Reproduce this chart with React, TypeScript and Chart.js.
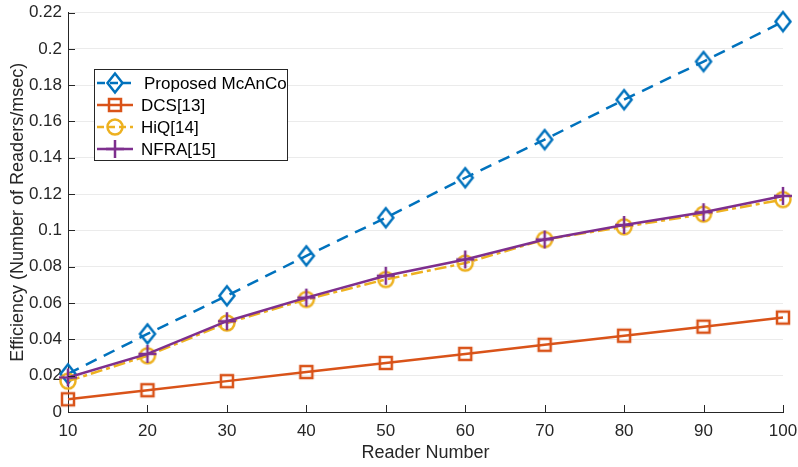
import React, { useEffect, useRef } from 'react';
import { Chart, registerables } from 'chart.js';

Chart.register(...registerables);

const readerNumbers = [10, 20, 30, 40, 50, 60, 70, 80, 90, 100];
const proposedMcAnCo = [0.021, 0.043, 0.064, 0.086, 0.107, 0.129, 0.150, 0.172, 0.193, 0.215];
const dcs13 = [0.007, 0.012, 0.017, 0.022, 0.027, 0.032, 0.037, 0.042, 0.047, 0.052];
const hiq14 = [0.017, 0.031, 0.049, 0.062, 0.073, 0.082, 0.095, 0.102, 0.109, 0.117];
const nfra15 = [0.019, 0.032, 0.050, 0.063, 0.075, 0.084, 0.095, 0.103, 0.110, 0.119];

const seriesNames = ['Proposed McAnCo', 'DCS[13]', 'HiQ[14]', 'NFRA[15]'];
const xTicks = [10, 20, 30, 40, 50, 60, 70, 80, 90, 100];
const yTicks = [0, 0.02, 0.04, 0.06, 0.08, 0.1, 0.12, 0.14, 0.16, 0.18, 0.2, 0.22];
const xTitle = 'Reader Number';
const yTitle = 'Efficiency (Number of Readers/msec)';

const FONT = "'Liberation Sans', Arial, Helvetica, sans-serif";
const AXIS = '#262626';

type Style = { color: string; dash: number[]; legendDash: number[]; marker: string };
const styles: Style[] = [
  { color: '#0072BD', dash: [12, 8], legendDash: [8, 5], marker: 'diamond' },
  { color: '#D95319', dash: [], legendDash: [], marker: 'square' },
  { color: '#EDB120', dash: [12, 4, 4, 4], legendDash: [7, 4], marker: 'circle' },
  { color: '#7E2F8E', dash: [], legendDash: [], marker: 'cross' },
];

function drawMarker(ctx: CanvasRenderingContext2D, s: Style, x: number, y: number) {
  ctx.save();
  ctx.setLineDash([]);
  ctx.strokeStyle = s.color;
  ctx.lineWidth = 2.5;
  ctx.beginPath();
  if (s.marker === 'diamond') {
    ctx.moveTo(x, y - 9.5);
    ctx.lineTo(x + 7.5, y);
    ctx.lineTo(x, y + 9.5);
    ctx.lineTo(x - 7.5, y);
    ctx.closePath();
  } else if (s.marker === 'square') {
    const h = 6;
    ctx.rect(x - h, y - h, 2 * h, 2 * h);
  } else if (s.marker === 'circle') {
    ctx.arc(x, y, 7.5, 0, Math.PI * 2);
  } else {
    const r = 9;
    ctx.moveTo(x - r, y);
    ctx.lineTo(x + r, y);
    ctx.moveTo(x, y - r);
    ctx.lineTo(x, y + r);
  }
  ctx.stroke();
  ctx.restore();
}

function makeMarkerImage(s: Style): HTMLCanvasElement {
  const c = document.createElement('canvas');
  c.width = 24;
  c.height = 24;
  const ctx = c.getContext('2d') as CanvasRenderingContext2D;
  drawMarker(ctx, s, 12, 12);
  return c;
}

const overlayPlugin = {
  id: 'matlabOverlay',
  afterDraw(chart: any) {
    const ctx: CanvasRenderingContext2D = chart.ctx;
    const xs = chart.scales.x;
    const ys = chart.scales.y;
    const area = chart.chartArea;
    ctx.save();
    ctx.strokeStyle = AXIS;
    ctx.lineWidth = 1;
    ctx.beginPath();
    for (const v of xTicks) {
      const px = Math.round(xs.getPixelForValue(v)) + 0.5;
      ctx.moveTo(px, area.bottom);
      ctx.lineTo(px, area.bottom - 7);
    }
    for (const v of yTicks) {
      const py = Math.round(ys.getPixelForValue(v)) + 0.5;
      ctx.moveTo(area.left, py);
      ctx.lineTo(area.left + 7, py);
    }
    ctx.stroke();
    ctx.restore();

    const bx = 94.5, by = 69.5, bw = 193, bh = 91;
    ctx.save();
    ctx.fillStyle = '#ffffff';
    ctx.fillRect(bx, by, bw, bh);
    ctx.strokeStyle = AXIS;
    ctx.lineWidth = 1;
    ctx.strokeRect(bx, by, bw, bh);
    ctx.font = `17px ${FONT}`;
    ctx.textBaseline = 'middle';
    ctx.textAlign = 'left';
    for (let i = 0; i < seriesNames.length; i++) {
      const s = styles[i];
      const cy = 83 + i * 22;
      ctx.save();
      ctx.strokeStyle = s.color;
      ctx.lineWidth = 2.5;
      ctx.setLineDash(s.legendDash);
      ctx.beginPath();
      ctx.moveTo(97, cy);
      ctx.lineTo(133, cy);
      ctx.stroke();
      ctx.restore();
      drawMarker(ctx, s, 115, cy);
      ctx.fillStyle = '#000000';
      ctx.fillText(seriesNames[i], i === 0 ? 144 : 141, cy + 1);
    }
    ctx.restore();
  },
};

export default function App() {
  const ref = useRef<HTMLCanvasElement | null>(null);
  useEffect(() => {
    if (!ref.current) return;
    const seriesValues = [proposedMcAnCo, dcs13, hiq14, nfra15];
    const images = styles.map(makeMarkerImage);
    const chart = new Chart(ref.current, {
      type: 'line',
      data: {
        datasets: seriesValues.map((vals, i) => ({
          label: seriesNames[i],
          data: readerNumbers.map((x, j) => ({ x, y: vals[j] })),
          borderColor: styles[i].color,
          backgroundColor: 'transparent',
          borderWidth: 2.5,
          borderDash: styles[i].dash,
          pointStyle: images[i] as any,
          pointRadius: 10,
          tension: 0,
          fill: false,
          clip: false as any,
          order: 4 - i,
        })),
      },
      options: {
        animation: false,
        responsive: false,
        events: [],
        layout: { padding: { top: 8, right: 15, left: 0, bottom: 0 } },
        plugins: { legend: { display: false }, tooltip: { enabled: false } },
        scales: {
          x: {
            type: 'linear',
            min: 10,
            max: 100,
            afterBuildTicks: (scale: any) => {
              scale.ticks = xTicks.map((v) => ({ value: v }));
            },
            afterFit: (scale: any) => {
              scale.height = 55;
              scale.paddingLeft = 0;
              scale.paddingRight = 0;
            },
            grid: { display: false, drawTicks: false },
            border: { display: true, color: AXIS, width: 1 },
            ticks: {
              padding: 9,
              color: '#262626',
              font: { family: FONT, size: 17 },
              maxRotation: 0,
              autoSkip: false,
              callback: (v: any) => String(v),
            },
            title: {
              display: true,
              text: xTitle,
              color: '#262626',
              font: { family: FONT, size: 18 },
              padding: { top: 3, bottom: 3 },
            },
          },
          y: {
            type: 'linear',
            min: 0,
            max: 0.22,
            afterBuildTicks: (scale: any) => {
              scale.ticks = yTicks.map((v) => ({ value: v }));
            },
            afterFit: (scale: any) => {
              scale.width = 68;
              scale.paddingTop = 0;
              scale.paddingBottom = 0;
            },
            grid: { display: true, drawTicks: false, color: '#ebebeb', lineWidth: 1 },
            border: { display: true, color: AXIS, width: 1 },
            ticks: {
              padding: 6,
              color: '#262626',
              font: { family: FONT, size: 17 },
              autoSkip: false,
              callback: (v: any) => String(Number(Number(v).toFixed(2))),
            },
            title: {
              display: true,
              text: yTitle,
              color: '#262626',
              font: { family: FONT, size: 18 },
              padding: { top: 7, bottom: 7 },
            },
          },
        },
      },
      plugins: [overlayPlugin],
    });
    return () => chart.destroy();
  }, []);

  return (
    <div style={{ position: 'absolute', left: 0, top: 0, width: 798, height: 467, background: '#fff' }}>
      <canvas ref={ref} width={798} height={467} style={{ width: 798, height: 467, display: 'block' }} />
    </div>
  );
}
